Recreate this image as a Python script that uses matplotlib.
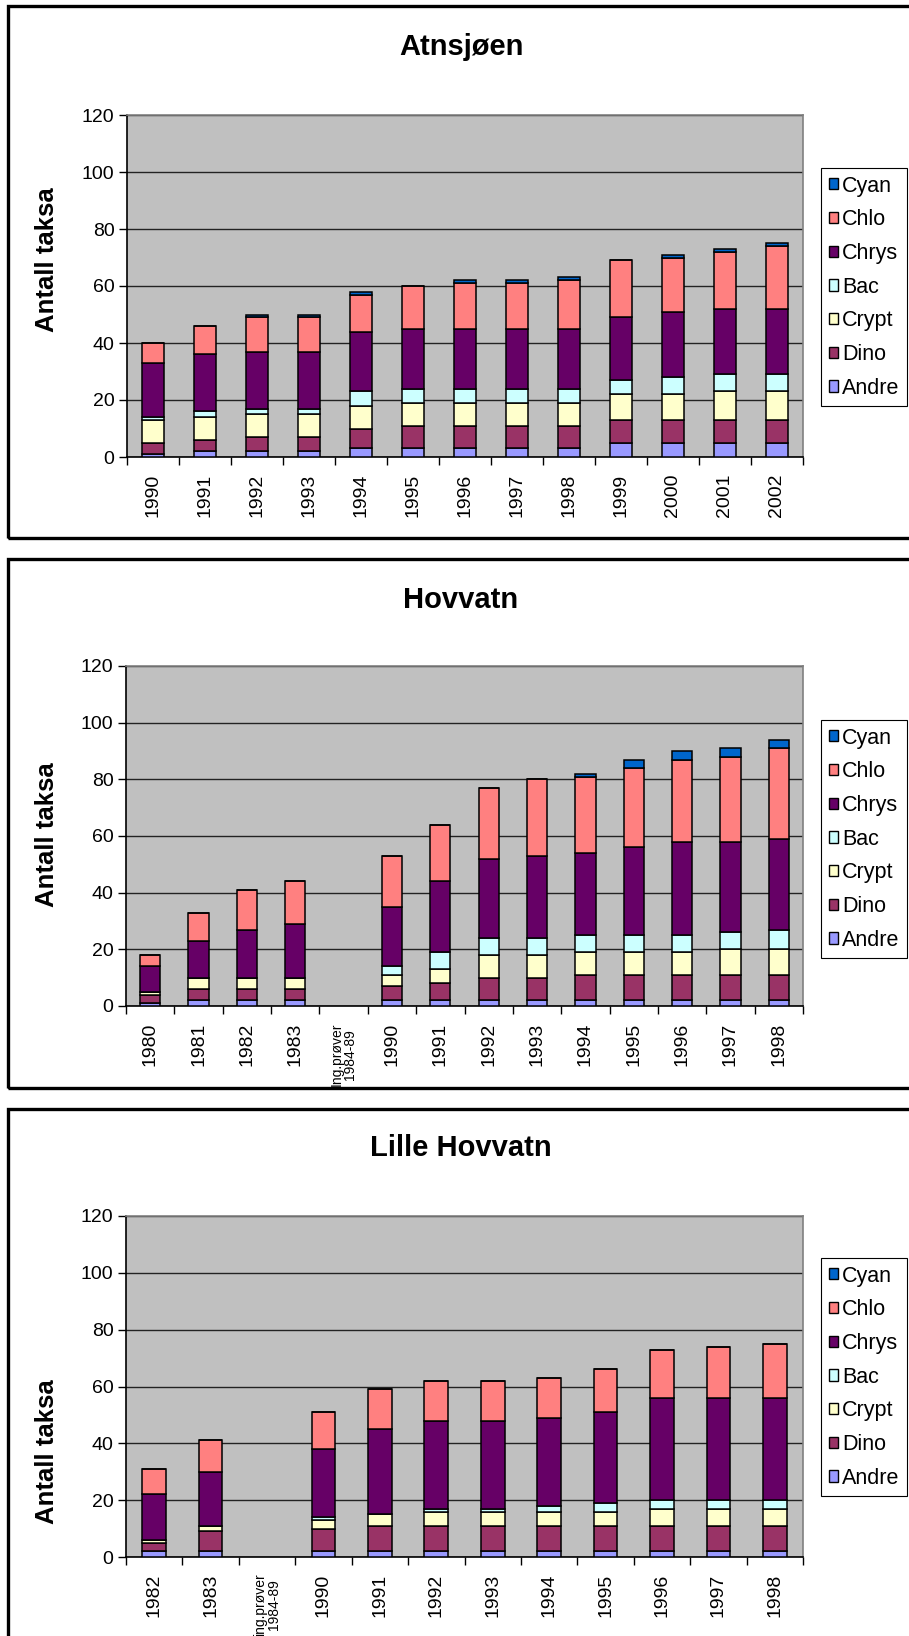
import numpy as np
import matplotlib
matplotlib.use('Agg')
import matplotlib.pyplot as plt
from matplotlib.patches import Rectangle, Patch

plt.rcParams['font.family'] = ['Liberation Sans', 'DejaVu Sans']

nan = np.nan
series_names = ['Andre', 'Dino', 'Crypt', 'Bac', 'Chrys', 'Chlo', 'Cyan']
series_colors = ['#9999FF', '#993366', '#FFFFCC', '#CCFFFF', '#660066', '#FF8080', '#0066CC']

# ---- Atnsjøen ----
atn_cats = ['1990', '1991', '1992', '1993', '1994', '1995', '1996', '1997', '1998',
            '1999', '2000', '2001', '2002']
atn_andre = [1, 2, 2, 2, 3, 3, 3, 3, 3, 5, 5, 5, 5]
atn_dino = [4, 4, 5, 5, 7, 8, 8, 8, 8, 8, 8, 8, 8]
atn_crypt = [8, 8, 8, 8, 8, 8, 8, 8, 8, 9, 9, 10, 10]
atn_bac = [1, 2, 2, 2, 5, 5, 5, 5, 5, 5, 6, 6, 6]
atn_chrys = [19, 20, 20, 20, 21, 21, 21, 21, 21, 22, 23, 23, 23]
atn_chlo = [7, 10, 12, 12, 13, 15, 16, 16, 17, 20, 19, 20, 22]
atn_cyan = [0, 0, 1, 1, 1, 0, 1, 1, 1, 0, 1, 1, 1]

# ---- Hovvatn ----
hov_cats = ['1980', '1981', '1982', '1983', 'Ing.prøver\n1984-89', '1990', '1991', '1992',
            '1993', '1994', '1995', '1996', '1997', '1998']
hov_andre = [1, 2, 2, 2, nan, 2, 2, 2, 2, 2, 2, 2, 2, 2]
hov_dino = [3, 4, 4, 4, nan, 5, 6, 8, 8, 9, 9, 9, 9, 9]
hov_crypt = [1, 4, 4, 4, nan, 4, 5, 8, 8, 8, 8, 8, 9, 9]
hov_bac = [0, 0, 0, 0, nan, 3, 6, 6, 6, 6, 6, 6, 6, 7]
hov_chrys = [9, 13, 17, 19, nan, 21, 25, 28, 29, 29, 31, 33, 32, 32]
hov_chlo = [4, 10, 14, 15, nan, 18, 20, 25, 27, 27, 28, 29, 30, 32]
hov_cyan = [0, 0, 0, 0, nan, 0, 0, 0, 0, 1, 3, 3, 3, 3]

# ---- Lille Hovvatn ----
lil_cats = ['1982', '1983', 'ing.prøver\n1984-89', '1990', '1991', '1992', '1993', '1994',
            '1995', '1996', '1997', '1998']
lil_andre = [2, 2, nan, 2, 2, 2, 2, 2, 2, 2, 2, 2]
lil_dino = [3, 7, nan, 8, 9, 9, 9, 9, 9, 9, 9, 9]
lil_crypt = [1, 2, nan, 3, 4, 5, 5, 5, 5, 6, 6, 6]
lil_bac = [0, 0, nan, 1, 0, 1, 1, 2, 3, 3, 3, 3]
lil_chrys = [16, 19, nan, 24, 30, 31, 31, 31, 32, 36, 36, 36]
lil_chlo = [9, 11, nan, 13, 14, 14, 14, 14, 15, 17, 18, 19]
lil_cyan = [0, 0, nan, 0, 0, 0, 0, 0, 0, 0, 0, 0]

W, H = 909, 1636
fig = plt.figure(figsize=(W / 100, H / 100), dpi=100)
fig.patch.set_facecolor('white')

panels = [
    dict(title='Atnsjøen', cats=atn_cats,
         data=[atn_andre, atn_dino, atn_crypt, atn_bac, atn_chrys, atn_chlo, atn_cyan],
         plot=(127, 115, 803, 457), border=(8, 6, 940, 538), title_y=47,
         ylabel_y=260, legend=(821, 168)),
    dict(title='Hovvatn', cats=hov_cats,
         data=[hov_andre, hov_dino, hov_crypt, hov_bac, hov_chrys, hov_chlo, hov_cyan],
         plot=(126, 666, 803, 1006), border=(8, 559, 940, 1088), title_y=600,
         ylabel_y=835, legend=(821, 720)),
    dict(title='Lille Hovvatn', cats=lil_cats,
         data=[lil_andre, lil_dino, lil_crypt, lil_bac, lil_chrys, lil_chlo, lil_cyan],
         plot=(126, 1216, 803, 1557), border=(8, 1109, 940, 1700), title_y=1148,
         ylabel_y=1452, legend=(821, 1258)),
]

for p in panels:
    bx0, by0, bx1, by1 = p['border']
    fig.add_artist(Rectangle((bx0 / W, 1 - by1 / H), (bx1 - bx0) / W, (by1 - by0) / H,
                             transform=fig.transFigure, fill=False, lw=2.4,
                             ec='black', zorder=0))
    x0, y0, x1, y1 = p['plot']
    ax = fig.add_axes([x0 / W, 1 - y1 / H, (x1 - x0) / W, (y1 - y0) / H])
    ax.set_facecolor('#C0C0C0')
    cats = p['cats']
    n = len(cats)
    x = np.arange(n)
    bottom = np.zeros(n)
    handles = []
    for name, col, vals in zip(series_names, series_colors, p['data']):
        v = np.array(vals, dtype=float)
        ax.bar(x, v, 0.42, bottom=bottom, color=col, edgecolor='black',
               linewidth=1.1, zorder=3)
        bottom = bottom + v
        handles.append(Patch(facecolor=col, edgecolor='black', linewidth=1.0, label=name))
    ax.set_xlim(-0.5, n - 0.5)
    ax.set_ylim(0, 120)
    ax.set_yticks(np.arange(0, 121, 20))
    ax.yaxis.grid(True, color='#222222', linewidth=1.0, zorder=1)
    ax.set_axisbelow(True)
    ax.set_xticks(x)
    ax.set_xticklabels(cats, rotation=90, fontsize=14)
    for lbl in ax.get_xticklabels():
        if '\n' in lbl.get_text():
            lbl.set_fontsize(10)
            lbl.set_family(['Liberation Sans Narrow', 'Liberation Sans', 'DejaVu Sans'])
            lbl.set_linespacing(0.95)
    ax.set_xticks(np.arange(-0.5, n, 1.0), minor=True)
    ax.tick_params(axis='x', which='major', length=0, pad=12)
    ax.tick_params(axis='x', which='minor', length=6, width=1.0, direction='out')
    ax.tick_params(axis='y', labelsize=14, length=6, width=1.0, direction='out', pad=3)
    for s in ['top', 'right']:
        ax.spines[s].set_color('#808080')
        ax.spines[s].set_linewidth(1.2)
    for s in ['left', 'bottom']:
        ax.spines[s].set_color('black')
        ax.spines[s].set_linewidth(1.2)
    fig.text(461 / W, 1 - p['title_y'] / H, p['title'], ha='center', va='center',
             fontsize=21, fontweight='bold')
    fig.text(47 / W, 1 - p['ylabel_y'] / H, 'Antall taksa', ha='center', va='center',
             rotation=90, fontsize=18.5, fontweight='bold')
    lx, ly = p['legend']
    leg = ax.legend(handles[::-1], series_names[::-1], loc='upper left',
                    bbox_to_anchor=(lx / W, 1 - ly / H), bbox_transform=fig.transFigure,
                    borderaxespad=0, fontsize=15.5, frameon=True, fancybox=False,
                    framealpha=1, edgecolor='black', handlelength=0.42,
                    handleheight=0.42, handletextpad=0.2, labelspacing=0.59,
                    borderpad=0.35)
    leg.get_frame().set_linewidth(0.8)

fig.savefig('out.png', dpi=100, facecolor='white')
